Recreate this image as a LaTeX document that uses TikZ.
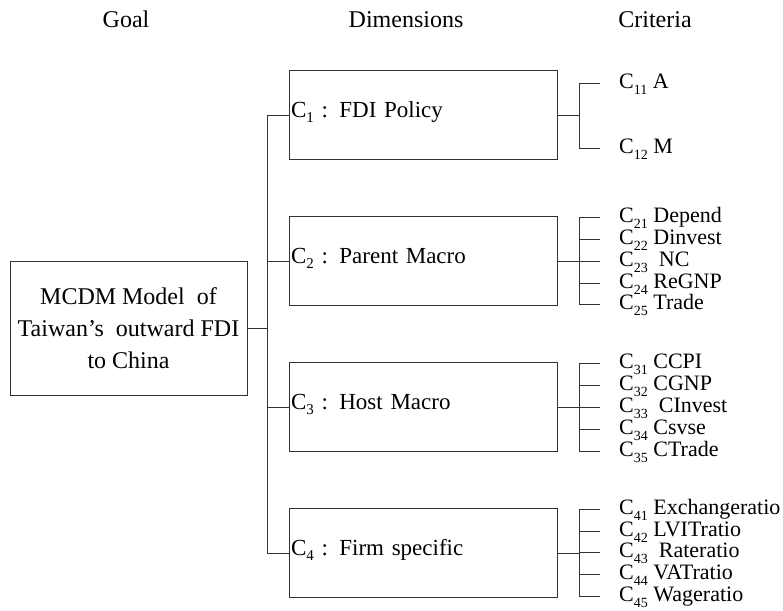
\documentclass[tikz,border=0pt]{standalone}
\usepackage{fontspec}
\setmainfont{Liberation Serif}
\newcommand\dsub[1]{\raisebox{-5pt}{\fontsize{15}{15}\selectfont #1}}
\newcommand\csub[1]{\raisebox{-6pt}{\fontsize{14}{14}\selectfont #1}}
\begin{document}
\begin{tikzpicture}[x=1pt,y=-1pt,
  ln/.style={draw=black!80, line width=1pt},
  head/.style={anchor=base, font=\fontsize{24}{24}\selectfont, inner sep=0},
  goalbox/.style={ln, minimum width=237, minimum height=134, align=center, font=\fontsize{24}{32}\selectfont, inner sep=0},
  dimbox/.style={ln, minimum width=268, minimum height=89, text width=264, align=left, inner xsep=2, inner ysep=0, text height=12, text depth=8, font=\fontsize{23}{23}\selectfont},
  crit/.style={anchor=west, inner sep=0, text height=11, text depth=0, font=\fontsize{22}{22}\selectfont},
  tick/.style={ln, shorten >=19pt},
]
\useasboundingbox (0,0) rectangle (783,610);
% headers
\node[head] (hg) at (126,28) {Goal};
\node[head] (hd) at (406,28) {Dimensions};
\node[head] (hc) at (655,28) {Criteria};
% goal
\node[goalbox] (goal) at (128.5,328) {MCDM Model\ \ of\\Taiwan’s\ \ outward FDI\\to China};
% dimensions
\node[dimbox] (d1) at (423,115) {C\dsub{1} : FDI Policy};
\node[dimbox] (d2) at (423,261) {C\dsub{2} : Parent Macro};
\node[dimbox] (d3) at (423,407) {C\dsub{3} : Host Macro};
\node[dimbox] (d4) at (423,553) {C\dsub{4} : Firm specific};
% trunk
\coordinate (tk) at (267,328);
\draw[ln] (goal.east) -- (tk);
\draw[ln] (tk) |- (d1.west);
\draw[ln] (tk) |- (d2.west);
\draw[ln] (tk) |- (d3.west);
\draw[ln] (tk) |- (d4.west);
% bracket joints
\coordinate (b1) at (579,115);
\coordinate (b2) at (579,261);
\coordinate (b3) at (579,407);
\coordinate (b4) at (579,553);
\draw[ln] (d1.east) -- (b1);
\draw[ln] (d2.east) -- (b2);
\draw[ln] (d3.east) -- (b3);
\draw[ln] (d4.east) -- (b4);
% criteria C1
\node[crit] (c11) at (619,83) {C\csub{11} A};
\node[crit] (c12) at (619,148) {C\csub{12} M};
% criteria C2
\node[crit] (c21) at (619,217) {C\csub{21} Depend};
\node[crit] (c22) at (619,239) {C\csub{22} Dinvest};
\node[crit] (c23) at (619,261) {C\csub{23}\ \ NC};
\node[crit] (c24) at (619,283) {C\csub{24} ReGNP};
\node[crit] (c25) at (619,304) {C\csub{25} Trade};
% criteria C3
\node[crit] (c31) at (619,363) {C\csub{31} CCPI};
\node[crit] (c32) at (619,385) {C\csub{32} CGNP};
\node[crit] (c33) at (619,407) {C\csub{33}\ \ CInvest};
\node[crit] (c34) at (619,429) {C\csub{34} Csvse};
\node[crit] (c35) at (619,451) {C\csub{35} CTrade};
% criteria C4
\node[crit] (c41) at (619,509) {C\csub{41} Exchangeratio};
\node[crit] (c42) at (619,531) {C\csub{42} LVITratio};
\node[crit] (c43) at (619,552) {C\csub{43}\ \ Rateratio};
\node[crit] (c44) at (619,574) {C\csub{44} VATratio};
\node[crit] (c45) at (619,596) {C\csub{45} Wageratio};
% ticks
\foreach \b/\c in {b1/c11,b1/c12,b2/c21,b2/c22,b2/c23,b2/c24,b2/c25,b3/c31,b3/c32,b3/c33,b3/c34,b3/c35,b4/c41,b4/c42,b4/c43,b4/c44,b4/c45}
  \draw[tick] (\b) |- (\c.west);
\end{tikzpicture}
\end{document}
